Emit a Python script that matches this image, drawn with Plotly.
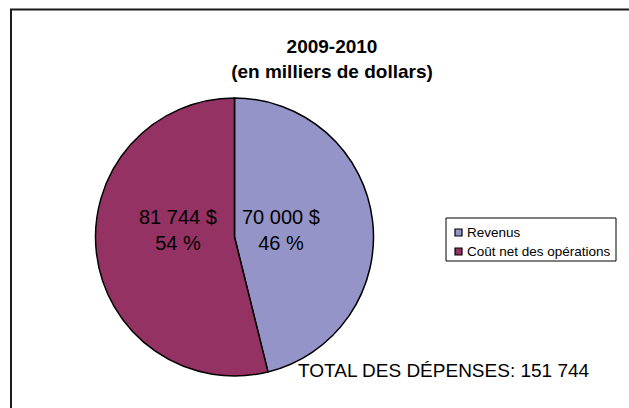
import plotly.graph_objects as go

# Budget 2009-2010, in thousands of dollars
labels = ["Revenus", "Coût net des opérations"]
values = [70000, 81744]
colors = ["#9494C8", "#953264"]
title_lines = ["2009-2010", "(en milliers de dollars)"]
total_label = "TOTAL DES DÉPENSES:"

W, H = 629, 408


def px(x):
    return x / W


def py(y):
    return 1 - y / H


def fmt_thousands(v):
    return f"{v:,}".replace(",", " ")


total = sum(values)

fig = go.Figure()

# Pie centred at (234.5, 237) px, radius ~139 px
cx, cy, r = 234.5, 237, 139
fig.add_trace(go.Pie(
    labels=labels,
    values=values,
    sort=False,
    direction="clockwise",
    rotation=0,
    marker=dict(colors=colors, line=dict(color="#000000", width=1.5)),
    textinfo="none",
    hoverinfo="label+value+percent",
    showlegend=False,
    domain=dict(x=[px(cx - r), px(cx + r)], y=[py(cy + r), py(cy - r)]),
))

annotations = []

# Slice labels: amount and share
label_pos = {"Revenus": (281, 229.5), "Coût net des opérations": (178, 229.5)}
for lab, v in zip(labels, values):
    x, y = label_pos[lab]
    pct = round(v / total * 100)
    annotations.append(dict(
        x=px(x), y=py(y), xref="paper", yref="paper",
        text=f"{fmt_thousands(v)} $<br>{pct} %",
        showarrow=False, xanchor="center", yanchor="middle",
        font=dict(family="Liberation Sans, Arial", size=20, color="#000000"),
    ))

# Total expenses note
annotations.append(dict(
    x=px(296), y=py(370), xref="paper", yref="paper",
    text=f"{total_label} {fmt_thousands(total)}",
    showarrow=False, xanchor="left", yanchor="middle",
    font=dict(family="Liberation Sans, Arial", size=19, color="#000000"),
))

shapes = []

# Outer frame (runs past the right and bottom edges)
shapes.append(dict(
    type="rect", xref="paper", yref="paper",
    x0=px(11), y0=py(420), x1=px(640), y1=py(9.5),
    line=dict(color="#1a1a1a", width=2), fillcolor="rgba(0,0,0,0)",
))

# Legend box with swatches
lx0, ly0, lx1, ly1 = 446, 218, 616, 261
shapes.append(dict(
    type="rect", xref="paper", yref="paper",
    x0=px(lx0), y0=py(ly1), x1=px(lx1), y1=py(ly0),
    line=dict(color="#000000", width=1), fillcolor="#FFFFFF",
))
item_y = [232.5, 251.5]
for lab, col, yy in zip(labels, colors, item_y):
    shapes.append(dict(
        type="rect", xref="paper", yref="paper",
        x0=px(455), y0=py(yy + 3.5), x1=px(462), y1=py(yy - 3.5),
        line=dict(color="#000000", width=1.2), fillcolor=col,
    ))
    annotations.append(dict(
        x=px(465), y=py(yy), xref="paper", yref="paper",
        text=lab, showarrow=False, xanchor="left", yanchor="middle",
        font=dict(family="Liberation Sans, Arial", size=13.5, color="#000000"),
    ))

fig.update_layout(
    width=W, height=H,
    margin=dict(l=0, r=0, t=0, b=0),
    paper_bgcolor="#FFFFFF",
    plot_bgcolor="#FFFFFF",
    title=dict(
        text="<b>" + "<br>".join(title_lines) + "</b>",
        x=px(332), xanchor="center",
        y=py(53), yanchor="middle",
        font=dict(family="Liberation Sans, Arial", size=19, color="#000000"),
    ),
    annotations=annotations,
    shapes=shapes,
    showlegend=False,
)

fig.write_html("out.html")
